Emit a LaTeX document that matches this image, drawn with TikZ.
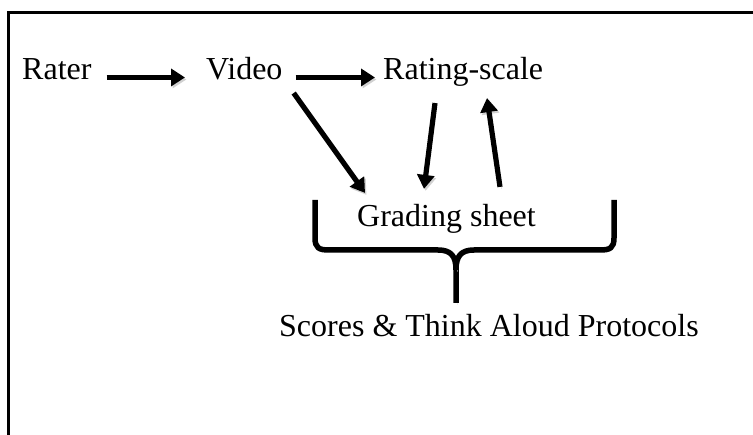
\documentclass[tikz,border=0pt]{standalone}
\usepackage{fontspec}
\setmainfont{Liberation Serif}
\usetikzlibrary{arrows.meta}

\begin{document}
\begin{tikzpicture}[x=1pt, y=-1pt,
        word/.style={anchor=base west, inner sep=0pt, text height=1.5ex, text depth=0.4ex, font=\fontsize{32}{38}\selectfont},
        flow/.style={line width=5.2pt, -{Triangle[length=14pt,width=17pt]},
            preaction={draw=black!18, transform canvas={shift={(1.5pt,-2pt)}}}},
        brace/.style={line width=5.5pt, line join=round,
            preaction={draw=black!18, transform canvas={shift={(1.5pt,-2pt)}}}}]
    \useasboundingbox (0,0) rectangle (753,435);
    % outer frame, open at right and bottom
    \draw[line width=3pt] (8,435) -- (8,13) -- (753,13);

    \node[word] (rater) at (22,80) {Rater};
    \node[word] (video) at (206,80) {Video};
    \node[word] (rating) at (383,80) {Rating-scale};
    \node[word] (grading) at (357,227) {Grading sheet};
    \node[word] (scores) at (279,337) {Scores \& Think Aloud Protocols};

    \draw[flow, shorten <=15pt, shorten >=21pt] (rater.east) -- (video.west);
    \draw[flow, shorten <=13pt, shorten >=8pt] (video.east) -- (rating.west);
    \draw[flow] ([shift={(11,11)}]video.south east) -- ([shift={(8,-27)}]grading.north west);
    \draw[flow] ([shift={(52,21)}]rating.south west) -- ([shift={(67,-31)}]grading.north west);
    \draw[flow] ([shift={(143,-33)}]grading.north west) -- ([shift={(104,16)}]rating.south west);

    % brace under the grading sheet
    \draw[brace] (315,200) -- (315,238) .. controls (315,248) and (319,250) .. (329,250)
        -- (438,250) .. controls (451,250) and (456,256) .. (456,270) -- (456,303);
    \draw[brace] (614,200) -- (614,238) .. controls (614,248) and (610,250) .. (600,250)
        -- (474,250) .. controls (461,250) and (456,256) .. (456,270);
\end{tikzpicture}
\end{document}
